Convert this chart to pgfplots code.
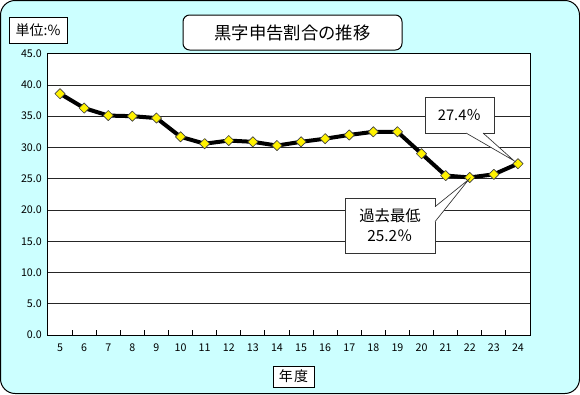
\documentclass[border=0pt]{standalone}
\usepackage{pgfplots}
\pgfplotsset{compat=1.18}
\usepackage{fontspec}
\setmainfont{Noto Sans CJK JP}
\definecolor{bgc}{HTML}{CCFFFF}
\begin{document}
\begin{tikzpicture}
\begin{scope}[x=0.75pt,y=0.75pt]
\draw[fill=bgc, line width=0.75pt, rounded corners=11pt] (0.5,0.5) rectangle (579.5,393.5);
\end{scope}
\begin{axis}[
  at={(36pt,44.25pt)}, anchor=south west,
  scale only axis, width=361.5pt, height=211pt,
  xmin=4.5, xmax=24.5, ymin=0, ymax=45,
  axis background/.style={fill=white},
  axis line style={black, line width=0.75pt},
  xtick={5,...,24},
  minor xtick={5.5,6.5,7.5,8.5,9.5,10.5,11.5,12.5,13.5,14.5,15.5,16.5,17.5,18.5,19.5,20.5,21.5,22.5,23.5},
  ytick={0,5,...,45},
  major tick length=0pt, minor tick length=3.5pt,
  tick align=inside, xtick pos=bottom, ytick pos=left,
  minor tick style={black, line width=0.75pt},
  ymajorgrids, grid style={black!85, line width=0.6pt},
  /pgf/number format/assume math mode=true,
  ticklabel style={font=\fontsize{8}{9}\selectfont, inner sep=0pt},
  yticklabel style={/pgf/number format/.cd, fixed, fixed zerofill, precision=1, /tikz/.cd, anchor=east, xshift=-4.5pt},
  xticklabel style={anchor=north, yshift=-6.5pt},
  clip=false,
]
\addplot[black, line width=3pt, line join=round,
  mark=square*, mark size=2.7pt,
  mark options={rotate=45, fill=yellow, draw=black!75, line width=0.5pt}]
  coordinates {
  (5,38.6) (6,36.3) (7,35.1) (8,35.0) (9,34.7) (10,31.7) (11,30.6) (12,31.1)
  (13,30.9) (14,30.3) (15,30.9) (16,31.4) (17,32.0) (18,32.5) (19,32.5)
  (20,29.0) (21,25.5) (22,25.2) (23,25.7) (24,27.4)
  };
\coordinate (p22) at (axis cs:22,25.2);
\coordinate (p24) at (axis cs:24,27.4);
\end{axis}
\begin{scope}[x=0.75pt,y=0.75pt]
% title box
\draw[fill=white, line width=0.75pt, rounded corners=5pt] (183,379) rectangle (402,344);
\node at (292.5,361.5) {\fontsize{13}{15}\selectfont 黒字申告割合の推移};
% unit box
\draw[fill=white, line width=0.75pt] (9,377) rectangle (67,351);
\node at (38,364) {\fontsize{10.5}{12}\selectfont 単位:\%};
% x label box
\draw[fill=white, line width=0.75pt] (273,28) rectangle (314,7);
\node at (293.5,17.5) {\fontsize{10.5}{11}\selectfont 年\hspace{1pt}度};
% callout 27.4%
\fill[white] (425,297) rectangle (494,261);
\fill[white] (466,261) -- ([shift={(-4,3)}]p24) -- (483,261) -- cycle;
\draw[black!80, line width=0.6pt] (466,261) -- (425,261) -- (425,297) -- (494,297) -- (494,261) -- (483,261);
\draw[black!80, line width=0.5pt] (466,261) -- ([shift={(-4,3)}]p24) -- (483,261);
\node at (459.5,279) {\fontsize{11}{12}\selectfont 27.4％};
% callout lowest
\fill[white] (345,196) rectangle (435,141);
\fill[white] (435,187.3) -- ([shift={(-1,-2)}]p22) -- (435,172.3) -- cycle;
\draw[black!80, line width=0.6pt] (435,187.3) -- (435,196) -- (345,196) -- (345,141) -- (435,141) -- (435,172.3);
\draw[black!80, line width=0.5pt] (435,187.3) -- ([shift={(-1,-2)}]p22) -- (435,172.3);
\node[align=center, font=\fontsize{11.5}{15}\selectfont] at (390,169) {過去最低\\25.2％};
\end{scope}
\end{tikzpicture}
\end{document}
